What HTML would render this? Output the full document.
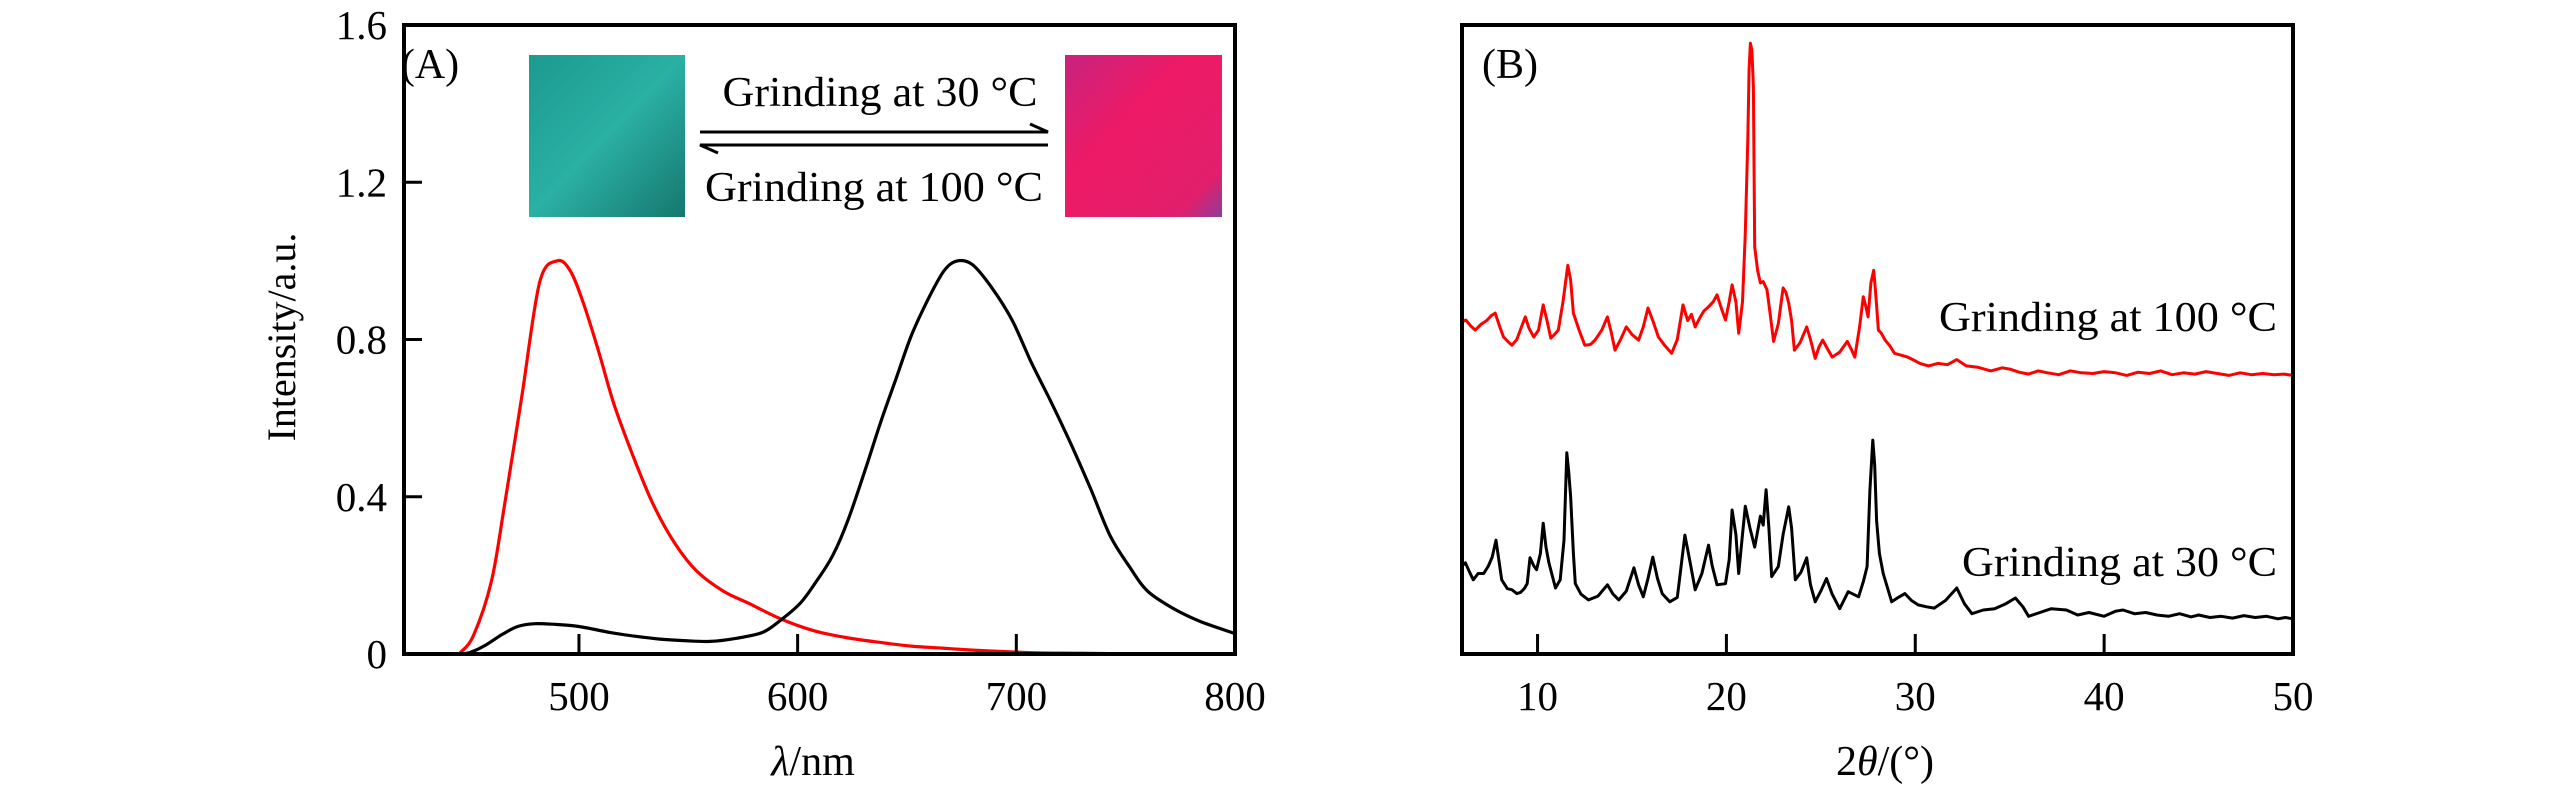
<!DOCTYPE html>
<html><head><meta charset="utf-8"><style>
html,body{margin:0;padding:0;background:#fff;}
svg{display:block;font-family:"Liberation Serif",serif;}
</style></head><body>
<svg id="fig" width="2567" height="787" viewBox="0 0 2567 787" xmlns="http://www.w3.org/2000/svg">
<defs>
<linearGradient id="gGreen" x1="0" y1="0" x2="1" y2="1">
<stop offset="0" stop-color="#1c9a8f"/><stop offset="0.5" stop-color="#2bb0a4"/><stop offset="1" stop-color="#15776e"/></linearGradient>
<linearGradient id="gPink" x1="0" y1="0" x2="1" y2="1">
<stop offset="0" stop-color="#c8227e"/><stop offset="0.4" stop-color="#ee1a66"/><stop offset="0.85" stop-color="#e11f6c"/><stop offset="1" stop-color="#8c3c9c"/></linearGradient>
</defs>
<g id="panelA"></g>
<g id="panelB"></g>
</svg>
<script>
// ---------- Panel A data (PL spectra) ----------
const aWavelength30 = [420,443,446,452,460,466,474,482,490,496,502,509,516,525,534,544,554,566,578,592,607,622,637,652,666,680,695,710,730,760,800];
const aRed = [0,0,0.005,0.05,0.186,0.38,0.66,0.945,1.0,0.975,0.893,0.77,0.636,0.5,0.38,0.28,0.21,0.16,0.128,0.09,0.06,0.042,0.03,0.02,0.015,0.01,0.006,0.003,0.002,0,0];
const aWavelengthBlack = [420,445,452,458,465,472,480,490,500,514,526,537,548,560,572,584,592,601,608,616,623,631,638,645,652,660,667,673,680,689,698,707,716,725,734,743,752,760,772,784,800];
const aBlack = [0,0,0.008,0.025,0.05,0.07,0.077,0.075,0.07,0.055,0.045,0.038,0.034,0.032,0.04,0.055,0.085,0.128,0.18,0.25,0.34,0.47,0.59,0.70,0.81,0.906,0.975,1.0,0.99,0.93,0.85,0.74,0.64,0.534,0.42,0.30,0.22,0.16,0.115,0.083,0.052];
const aXTicks = [500,600,700,800];
const aYTicks = [0,0.4,0.8,1.2,1.6];
const aYTickLabels = ["0","0.4","0.8","1.2","1.6"];

// ---------- Panel B data (XRD) ----------
const bAngleRed = [6.0,6.2,6.45,6.7,7.0,7.3,7.55,7.76,8.0,8.2,8.45,8.65,8.9,9.15,9.35,9.55,9.8,10.05,10.3,10.5,10.7,10.9,11.1,11.35,11.6,11.75,11.9,12.2,12.5,12.8,13.05,13.4,13.7,13.9,14.1,14.4,14.7,15.0,15.35,15.6,15.85,16.1,16.4,16.75,17.1,17.4,17.7,17.95,18.15,18.35,18.6,18.8,19.05,19.3,19.5,19.75,19.95,20.15,20.3,20.5,20.65,20.85,21.0,21.13,21.2,21.27,21.35,21.43,21.5,21.65,21.8,21.95,22.15,22.3,22.5,22.75,23.0,23.15,23.3,23.45,23.6,23.9,24.25,24.45,24.7,24.9,25.1,25.35,25.6,26.0,26.4,26.6,26.8,27.05,27.25,27.4,27.5,27.65,27.8,27.9,28.05,28.2,28.4,28.65,28.9,29.25,29.6,30.0,30.25,30.7,31.2,31.7,32.2,32.7,33.3,34.0,34.6,35.0,35.5,36.0,36.5,37.0,37.6,38.2,38.8,39.4,40.0,40.6,41.2,41.8,42.4,43.0,43.6,44.2,44.8,45.4,46.0,46.6,47.2,47.8,48.4,49.0,49.5,50.0];
const bRed = [528,531,522,515,524,530,538,542,520,504,496,491,500,520,536,518,504,515,555,530,502,508,515,560,618,595,542,515,491,492,499,515,536,512,483,500,520,508,499,520,550,530,504,490,478,500,555,530,540,520,535,545,552,560,571,548,531,560,587,560,510,560,669,817,930,971,960,901,647,610,590,592,579,545,497,525,582,575,558,530,483,495,520,500,470,488,499,485,472,480,497,485,472,520,568,550,536,590,610,575,515,510,499,490,478,475,472,466,462,458,462,460,468,458,456,450,455,453,448,445,450,447,444,450,447,446,449,447,443,448,446,450,444,447,445,449,446,443,447,444,446,444,445,443];
const bAngleBlack = [6.0,6.18,6.4,6.6,6.85,7.15,7.4,7.6,7.8,7.95,8.1,8.4,8.65,8.9,9.1,9.3,9.45,9.6,9.8,9.95,10.15,10.3,10.45,10.6,10.95,11.2,11.4,11.55,11.65,11.75,11.9,12.0,12.3,12.7,13.2,13.7,14.0,14.3,14.7,15.1,15.35,15.6,15.85,16.1,16.35,16.6,17.0,17.4,17.8,18.05,18.35,18.7,19.05,19.25,19.5,19.95,20.15,20.3,20.5,20.65,20.85,21.0,21.25,21.5,21.65,21.8,21.95,22.1,22.25,22.4,22.75,23.0,23.3,23.45,23.65,23.95,24.25,24.45,24.7,25.0,25.3,25.6,26.0,26.45,27.0,27.25,27.45,27.6,27.75,27.85,27.95,28.1,28.3,28.75,29.1,29.45,29.8,30.15,30.6,31.0,31.6,32.2,32.6,33.0,33.6,34.2,34.8,35.3,35.7,36.0,36.6,37.2,38.0,38.6,39.2,40.0,40.6,41.0,41.6,42.2,42.8,43.4,44.0,44.6,45.0,45.6,46.2,46.8,47.4,48.0,48.6,49.2,49.6,50.0];
const bBlack = [140,145,130,118,128,128,140,154,181,150,118,104,102,96,98,104,112,153,140,134,160,208,170,145,105,118,181,320,290,251,160,112,95,86,92,110,95,86,100,137,110,91,120,154,120,96,83,90,189,150,102,128,173,140,110,112,150,229,190,128,190,235,200,170,195,219,205,261,200,123,139,190,234,200,118,130,153,110,83,100,120,95,72,99,91,115,139,260,340,300,212,160,128,83,90,96,85,78,75,73,85,105,80,64,70,72,80,89,75,60,66,72,70,62,66,60,68,70,64,66,62,60,64,59,62,58,60,57,61,58,60,56,58,56];
const bXTicks = [10,20,30,40,50];

// ---------- helpers ----------
const NS = "http://www.w3.org/2000/svg";
function mk(parent, tag, attrs, text){
  const el = document.createElementNS(NS, tag);
  for (const k in attrs) el.setAttribute(k, attrs[k]);
  if (text !== undefined) el.textContent = text;
  parent.appendChild(el);
  return el;
}
function smoothPath(pts){
  let d = "M" + pts[0][0].toFixed(1) + "," + pts[0][1].toFixed(1);
  for (let i=0;i<pts.length-1;i++){
    const p0=pts[Math.max(0,i-1)], p1=pts[i], p2=pts[i+1], p3=pts[Math.min(pts.length-1,i+2)];
    const c1x=p1[0]+(p2[0]-p0[0])/6, c1y=p1[1]+(p2[1]-p0[1])/6;
    const c2x=p2[0]-(p3[0]-p1[0])/6, c2y=p2[1]-(p3[1]-p1[1])/6;
    d += " C"+c1x.toFixed(1)+","+c1y.toFixed(1)+" "+c2x.toFixed(1)+","+c2y.toFixed(1)+" "+p2[0].toFixed(1)+","+p2[1].toFixed(1);
  }
  return d;
}

// ---------- Panel A ----------
const A = {l:404, r:1235, t:25, b:654, x0:420, x1:800, y0:0, y1:1.6};
const ax = v => A.l + (v - A.x0) / (A.x1 - A.x0) * (A.r - A.l);
const ay = v => A.b - (v - A.y0) / (A.y1 - A.y0) * (A.b - A.t);
const gA = document.getElementById("panelA");

const redPath = mk(gA, "path", {d: smoothPath(aWavelength30.map((w,i)=>[ax(w), ay(aRed[i])])), fill:"none", stroke:"#ff0000", "stroke-width":3.2, "stroke-linejoin":"round"});


const blackPath = mk(gA, "path", {d: smoothPath(aWavelengthBlack.map((w,i)=>[ax(w), ay(aBlack[i])])), fill:"none", stroke:"#000", "stroke-width":3.2, "stroke-linejoin":"round"});



aXTicks.forEach(t=>{
  const tk = mk(gA, "line", {x1:ax(t), x2:ax(t), y1:A.b, y2:A.b-20, stroke:"#000", "stroke-width":3});
  
  
  const lb = mk(gA, "text", {x:ax(t), y:710, "font-size":41, "text-anchor":"middle"}, String(t));
  
  
});
aYTicks.forEach((t,i)=>{
  const tk = mk(gA, "line", {x1:A.l, x2:A.l+18, y1:ay(t), y2:ay(t), stroke:"#000", "stroke-width":3});
  
  
  const lb = mk(gA, "text", {x:387, y:ay(t)+14, "font-size":41, "text-anchor":"end"}, aYTickLabels[i]);
  
  
});
const frameA = mk(gA, "rect", {x:A.l, y:A.t, width:A.r-A.l, height:A.b-A.t, fill:"none", stroke:"#000", "stroke-width":4});



const xtA = mk(gA, "text", {x:813, y:775, "font-size":42, "text-anchor":"middle"});


mk(xtA, "tspan", {"font-style":"italic"}, "λ");
mk(xtA, "tspan", {}, "/nm");
const ytA = mk(gA, "text", {x:0, y:0, "font-size":40, "text-anchor":"middle", transform:"translate(295,337) rotate(-90)"}, "Intensity/a.u.");


const labA = mk(gA, "text", {x:430, y:78, "font-size":42, "text-anchor":"middle"}, "(A)");



const green = mk(gA, "rect", {x:529, y:55, width:156, height:162, fill:"url(#gGreen)"});


const pink = mk(gA, "rect", {x:1065, y:55, width:157, height:162, fill:"url(#gPink)"});


const arr1 = mk(gA, "path", {d:"M700,132 L1048,132 L1030,124", fill:"none", stroke:"#000", "stroke-width":3});


const arr2 = mk(gA, "path", {d:"M1048,145 L700,145 L718,153", fill:"none", stroke:"#000", "stroke-width":3});


const g30 = mk(gA, "text", {x:880, y:106, "font-size":42, "text-anchor":"middle", textLength:315, lengthAdjust:"spacingAndGlyphs"}, "Grinding at 30 °C");


const g100 = mk(gA, "text", {x:874, y:201, "font-size":42, "text-anchor":"middle", textLength:338, lengthAdjust:"spacingAndGlyphs"}, "Grinding at 100 °C");



// ---------- Panel B ----------
const B = {l:1462, r:2293, t:25, b:654, x0:6, x1:50, y0:0, y1:1000};
const bx = v => B.l + (v - B.x0) / (B.x1 - B.x0) * (B.r - B.l);
const by = v => B.b - (v - B.y0) / (B.y1 - B.y0) * (B.b - B.t);
const gB = document.getElementById("panelB");

const rl = mk(gB, "polyline", {points: bAngleRed.map((a,i)=>bx(a).toFixed(1)+","+by(bRed[i]).toFixed(1)).join(" "), fill:"none", stroke:"#ff0000", "stroke-width":3, "stroke-linejoin":"round"});


const bl = mk(gB, "polyline", {points: bAngleBlack.map((a,i)=>bx(a).toFixed(1)+","+by(bBlack[i]).toFixed(1)).join(" "), fill:"none", stroke:"#000", "stroke-width":3, "stroke-linejoin":"round"});



bXTicks.forEach(t=>{
  const tk = mk(gB, "line", {x1:bx(t), x2:bx(t), y1:B.b, y2:B.b-20, stroke:"#000", "stroke-width":3});
  
  
  const lb = mk(gB, "text", {x:bx(t), y:710, "font-size":41, "text-anchor":"middle"}, String(t));
  
  
});
const frameB = mk(gB, "rect", {x:B.l, y:B.t, width:B.r-B.l, height:B.b-B.t, fill:"none", stroke:"#000", "stroke-width":4});


const xtB = mk(gB, "text", {x:1885, y:775, "font-size":42, "text-anchor":"middle"});


mk(xtB, "tspan", {}, "2");
mk(xtB, "tspan", {"font-style":"italic"}, "θ");
mk(xtB, "tspan", {}, "/(°)");
const labB = mk(gB, "text", {x:1510, y:78, "font-size":42, "text-anchor":"middle"}, "(B)");


const lb100 = mk(gB, "text", {x:2277, y:331, "font-size":42, "text-anchor":"end", textLength:338, lengthAdjust:"spacingAndGlyphs"}, "Grinding at 100 °C");


const lb30 = mk(gB, "text", {x:2277, y:576, "font-size":42, "text-anchor":"end", textLength:315, lengthAdjust:"spacingAndGlyphs"}, "Grinding at 30 °C");


</script>
</body></html>
